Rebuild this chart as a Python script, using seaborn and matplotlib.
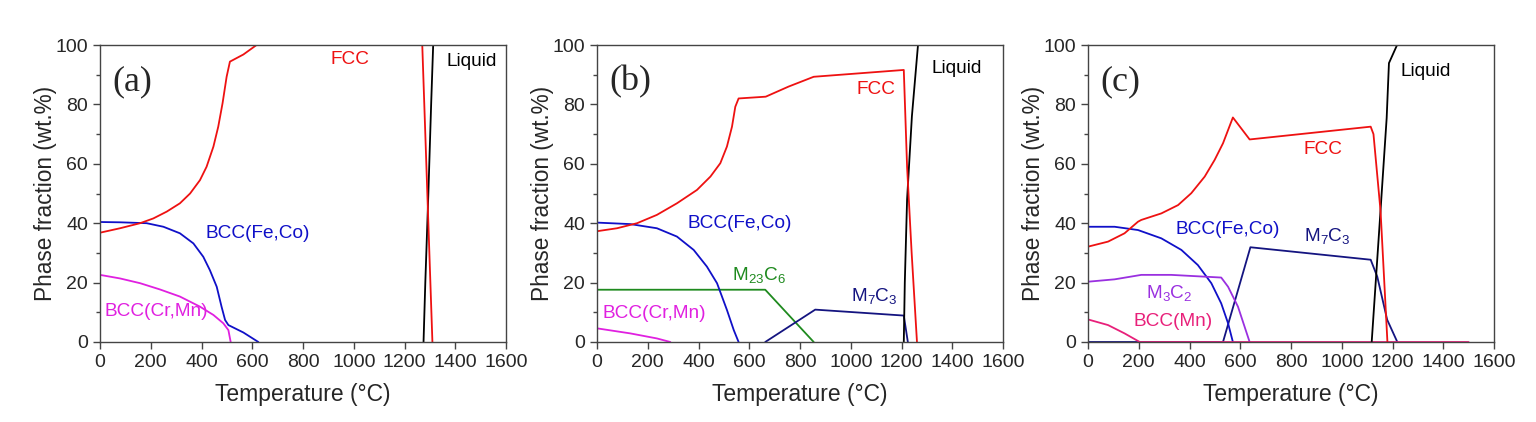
import numpy as np
import matplotlib
matplotlib.use("Agg")
import matplotlib.pyplot as plt
from matplotlib.ticker import MultipleLocator
import seaborn as sns

sns.set_style("ticks")
plt.rcParams['font.family'] = ['Liberation Sans', 'DejaVu Sans']
plt.rcParams['mathtext.default'] = 'regular'

RED = '#ee1111'
BLUE = '#1010c8'
MAGENTA = '#e020e0'
GREEN = '#1e8a1e'
NAVY = '#141480'
PURPLE = '#9a30e0'
PINK = '#e8207a'
BLACK = '#000000'

# ---- panel (a)
a_fcc_T = [0, 79, 158, 210, 263, 315, 355, 394, 420, 447, 466, 483, 499, 512, 565, 617,
           1270, 1290, 1310]
a_fcc_f = [36.8, 38.3, 40, 41.6, 43.9, 46.7, 50, 54.5, 59, 65.8, 72.5, 80.4, 89.3, 94.4,
           96.8, 100, 100, 50, 0]
a_liq_T = [1275, 1282, 1294, 1305, 1313]
a_liq_f = [0, 20, 50, 80, 100]
a_bccfe_T = [0, 79, 184, 250, 315, 368, 407, 433, 460, 479, 493, 506, 565, 624]
a_bccfe_f = [40.4, 40.3, 40, 38.8, 36.6, 33.2, 28.7, 24.2, 18.6, 11.9, 7.4, 5.7, 3.2, 0]
a_bcccr_T = [0, 79, 158, 236, 315, 394, 447, 486, 506, 515]
a_bcccr_f = [22.6, 21.4, 19.8, 17.7, 15.3, 11.9, 9.1, 6.3, 4.0, 0]

# ---- panel (b)
b_fcc_T = [0, 79, 158, 236, 315, 394, 447, 486, 512, 532, 545, 558, 665, 755, 854, 1209,
           1222, 1240, 1261]
b_fcc_f = [37.3, 38.3, 40, 42.8, 46.7, 51.2, 55.7, 60.2, 65.8, 72.5, 79.2, 82, 82.6, 86,
           89.3, 91.6, 59, 30, 0]
b_liq_T = [1209, 1213, 1222, 1241, 1265]
b_liq_f = [0, 20, 48, 76, 100]
b_bccfe_T = [0, 131, 236, 315, 381, 433, 473, 512, 539, 558]
b_bccfe_f = [40.2, 39.7, 38.3, 35.5, 31, 25.4, 19.8, 10.8, 4.0, 0]
b_m23_T = [0, 663, 854]
b_m23_f = [17.6, 17.6, 0]
b_m7_T = [663, 860, 1209, 1225]
b_m7_f = [0, 10.9, 8.9, 0]
b_bcccr_T = [0, 131, 236, 289]
b_bcccr_f = [4.6, 2.9, 1.2, 0]

# ---- panel (c)
c_fcc_T = [0, 79, 144, 197, 210, 289, 355, 407, 460, 499, 532, 571, 637, 1114, 1125,
           1153, 1180]
c_fcc_f = [32.1, 33.8, 36.6, 40.5, 41.1, 43.3, 46.1, 50.1, 55.7, 61.3, 66.9, 75.6, 68.2,
           72.5, 70, 44, 0]
c_liq_T = [1118, 1153, 1177, 1186, 1218]
c_liq_f = [0, 44.5, 75.4, 93.9, 100]
c_bccfe_T = [0, 105, 197, 289, 368, 433, 486, 525, 552, 571]
c_bccfe_f = [38.8, 38.8, 37.7, 34.9, 31, 25.9, 19.8, 13, 6.3, 0]
c_m7_T = [0, 532, 640, 1114, 1140, 1179, 1219]
c_m7_f = [0, 0, 31.9, 27.7, 22, 7.5, 0]
c_m3_T = [0, 105, 210, 328, 525, 552, 591, 637]
c_m3_f = [20.3, 21.1, 22.6, 22.6, 21.7, 18.6, 11.9, 0]
c_bccmn_T = [0, 79, 144, 204, 1500]
c_bccmn_f = [7.6, 5.7, 2.9, 0, 0]

panels = [
    {'tag': '(a)',
     'lines': [(a_bcccr_T, a_bcccr_f, MAGENTA), (a_bccfe_T, a_bccfe_f, BLUE),
               (a_liq_T, a_liq_f, BLACK), (a_fcc_T, a_fcc_f, RED)],
     'labels': [('FCC', 986, 95, RED), ('Liquid', 1466, 94.4, BLACK),
                ('BCC(Fe,Co)', 623, 36.7, BLUE), ('BCC(Cr,Mn)', 221, 10.3, MAGENTA)]},
    {'tag': '(b)',
     'lines': [(b_bcccr_T, b_bcccr_f, MAGENTA), (b_m23_T, b_m23_f, GREEN),
               (b_m7_T, b_m7_f, NAVY), (b_bccfe_T, b_bccfe_f, BLUE),
               (b_liq_T, b_liq_f, BLACK), (b_fcc_T, b_fcc_f, RED)],
     'labels': [('Liquid', 1416, 92.2, BLACK), ('FCC', 1100, 85.1, RED),
                ('BCC(Fe,Co)', 563, 40, BLUE), (r'M$_{23}$C$_6$', 637, 22.5, GREEN),
                (r'M$_7$C$_3$', 1092, 15.5, NAVY), ('BCC(Cr,Mn)', 227, 9.75, MAGENTA)]},
    {'tag': '(c)',
     'lines': [(c_m7_T, c_m7_f, NAVY), (c_bccfe_T, c_bccfe_f, BLUE),
               (c_m3_T, c_m3_f, PURPLE), (c_bccmn_T, c_bccmn_f, PINK),
               (c_liq_T, c_liq_f, BLACK), (c_fcc_T, c_fcc_f, RED)],
     'labels': [('Liquid', 1331, 91, BLACK), ('FCC', 927, 64.9, RED),
                ('BCC(Fe,Co)', 549, 38, BLUE), (r'M$_7$C$_3$', 943, 35.7, NAVY),
                (r'M$_3$C$_2$', 322, 16.6, PURPLE), ('BCC(Mn)', 335, 7, PINK)]},
]

fig = plt.figure(figsize=(15.36, 4.22), dpi=100)
lefts = [100, 597, 1088]
for left, p in zip(lefts, panels):
    ax = fig.add_axes([left / 1536, 80 / 422, 406 / 1536, 297 / 422])
    for T, f, col in p['lines']:
        sns.lineplot(x=T, y=f, ax=ax, color=col, lw=1.3, sort=False, estimator=None)
    for txt, x, y, col in p['labels']:
        ax.text(x, y, txt, color=col, fontsize=13.7, ha='center', va='center')
    ax.text(0.03, 0.875, p['tag'], transform=ax.transAxes, fontsize=26,
            family=['Liberation Serif', 'DejaVu Serif'], va='center', ha='left')
    ax.set_xlim(0, 1600)
    ax.set_ylim(0, 100)
    ax.set_xticks(np.arange(0, 1601, 200))
    ax.set_yticks(np.arange(0, 101, 20))
    ax.yaxis.set_minor_locator(MultipleLocator(10))
    ax.tick_params(axis='both', which='major', direction='out', length=5,
                   width=1, labelsize=14, color='#444444')
    ax.tick_params(axis='y', which='minor', direction='out', length=3,
                   width=1, color='#444444')
    for s in ax.spines.values():
        s.set_color('#444444')
        s.set_linewidth(1)
    ax.set_xlabel('Temperature (°C)', fontsize=16.5, labelpad=9)
    ax.set_ylabel('Phase fraction (wt.%)', fontsize=16.3, labelpad=-1)

fig.savefig('out.png', dpi=100)
